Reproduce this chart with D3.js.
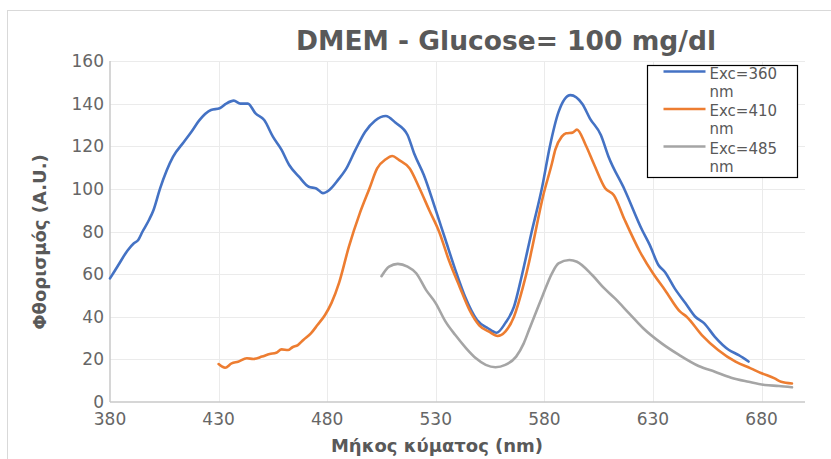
<!DOCTYPE html>
<html>
<head>
<meta charset="utf-8">
<script src="https://cdn.jsdelivr.net/npm/d3@7"></script>
<style>
  body { margin: 0; background: #fff; }
  svg { display: block; font-family: 'DejaVu Sans', sans-serif; }
  .grid line { stroke: #ebebeb; stroke-width: 1; }
  .tick-label { fill: #666; font-size: 17px; }
  .axis-title { fill: #595959; font-size: 18px; font-weight: bold; }
  .series { fill: none; stroke-width: 2.6; stroke-linejoin: round; stroke-linecap: round; }
</style>
</head>
<body>
<svg id="chart" width="831" height="459"></svg>
<script>
// Fluorescence emission spectra

const xTicks = [380, 430, 480, 530, 580, 630, 680];
const yTicks = [0, 20, 40, 60, 80, 100, 120, 140, 160];

const seriesNames = ['Exc=360 nm', 'Exc=410 nm', 'Exc=485 nm'];
const seriesColors = ['#4472c4', '#ed7d31', '#a5a5a5'];

const exc360Nm = [380, 384, 388, 391, 393, 395, 398, 400, 403, 409, 414, 417.5, 421, 426.5, 430.5, 433.5,
  437, 440, 443.5, 447, 451, 455, 459, 462.5, 467, 471.5, 475, 478, 481, 485, 488.5, 493, 497.5,
  502, 507, 511.5, 517, 520, 524.5, 530, 534.5, 539, 543.5, 549, 554, 558, 562, 566, 569.5, 574,
  579, 582.5, 586.5, 592, 597.5, 601, 606, 609.5, 617, 625, 628.5, 632.5, 635.5, 640, 645, 649.5,
  653.5, 658.5, 665, 669.5, 674];
const exc360Val = [58, 64.5, 71, 74.5, 76, 80, 85.5, 90, 100, 115, 122, 126.8, 132, 137, 137.8, 140,
  141.4, 140, 140, 135.4, 132.3, 124.5, 118.3, 111.2, 105.7, 101, 100.2, 98, 99.5, 104.2, 109, 118.3, 126.8,
  132, 134.2, 131, 125.3, 116.7, 106.5, 90, 76, 62, 49.4, 38.5, 34.6, 32.5, 37, 44.7, 58.8, 79.2,
  101, 119.8, 136, 144, 139.8, 133, 125.3, 115.2, 99.5, 80.7, 73.7, 64.3, 61, 53.3, 46.3, 40,
  37, 30.6, 24.4, 22, 19];

const exc410Nm = [430, 433, 436, 439, 443, 446, 450, 453.5, 456.5, 459, 462, 464, 466.5, 469, 472.5,
  475.5, 479, 482, 485.5, 490, 495, 499.5, 503, 507, 510, 513, 518, 522.5, 527, 531.5, 536, 541,
  545.5, 550, 554.5, 558.5, 562, 566, 570, 573, 574.5, 579.5, 583.5, 585, 588, 590, 593, 595,
  599, 603, 608, 612, 617, 624, 630, 635.5, 642.5, 645.5, 652.5, 660, 668, 675, 680, 686, 689, 694];
const exc410Val = [17.8, 16.1, 18.1, 18.9, 20.5, 20.2, 21.3, 22.5, 23.1, 24.7, 24.4, 25.7, 26.7, 29.1, 32.2,
  36.1, 40.8, 46.5, 56, 72.9, 88.5, 100.3, 109.6, 113.9, 115.4, 113.6, 109.6, 100.3, 90, 80, 66.6, 54,
  43.2, 36, 33, 31, 33, 40, 53.4, 65.8, 73, 97, 112, 118.3, 124.5, 126.1, 126.4, 127.8,
  120.6, 111.2, 100.3, 97, 85.4, 70.5, 60.4, 52.6, 42.4, 40, 31.4, 24.4, 18.9, 15.8, 13.5, 11.1, 9.5, 8.7];

const exc485Nm = [505, 508.5, 512.5, 517, 521, 525.5, 530, 534.5, 539, 544, 548.5, 553, 557.5, 562, 567,
  570.5, 573, 579, 583.5, 586.5, 591.5, 595, 602, 607.5, 612.5, 619, 625.5, 634, 642, 651, 658.5,
  666, 674, 681.5, 688, 694];
const exc485Val = [59, 63.5, 64.8, 63.5, 60.4, 52.6, 46.3, 37.7, 31.4, 25.2, 20.5, 17.4, 16.3, 17.4, 21.3,
  27.5, 34, 49.4, 60.4, 65, 66.6, 65.8, 59.6, 53.4, 48.6, 41.6, 34.6, 27.5, 22.1, 16.9, 14.2,
  11.4, 9.5, 8, 7.5, 6.9];

const seriesNm = [exc360Nm, exc410Nm, exc485Nm];
const seriesVal = [exc360Val, exc410Val, exc485Val];

const margin = { left: 110, right: 26, top: 61, bottom: 57 };
const W = 831, H = 459;

const svg = d3.select('#chart');

// thin frame around the whole chart
svg.append('rect')
  .attr('x', 7.5).attr('y', 10.5)
  .attr('width', 900).attr('height', 600)
  .attr('fill', 'none').attr('stroke', '#d9d9d9');

const x = d3.scaleLinear().domain([380, 700]).range([margin.left, W - margin.right]);
const y = d3.scaleLinear().domain([0, 160]).range([H - margin.bottom, margin.top]);

// grid
const grid = svg.append('g').attr('class', 'grid');
grid.selectAll('line.h').data(yTicks.filter(d => d > 0)).enter().append('line')
  .attr('x1', x(380)).attr('x2', x(700))
  .attr('y1', d => Math.round(y(d)) + 0.5).attr('y2', d => Math.round(y(d)) + 0.5);
grid.selectAll('line.v').data(xTicks.filter(d => d > 380)).enter().append('line')
  .attr('x1', d => Math.round(x(d)) + 0.5).attr('x2', d => Math.round(x(d)) + 0.5)
  .attr('y1', y(0)).attr('y2', y(160));

// axes lines
svg.append('line')
  .attr('x1', x(380)).attr('x2', x(380)).attr('y1', y(0)).attr('y2', y(160))
  .attr('stroke', '#c8c8c8').attr('stroke-width', 1.5);
svg.append('line')
  .attr('x1', x(380)).attr('x2', x(700)).attr('y1', y(0)).attr('y2', y(0))
  .attr('stroke', '#c8c8c8').attr('stroke-width', 1.5);

// tick labels
svg.selectAll('text.ytick').data(yTicks).enter().append('text')
  .attr('class', 'tick-label')
  .attr('x', x(380) - 6).attr('y', d => y(d))
  .attr('dy', '0.36em').attr('text-anchor', 'end')
  .text(d => d);
svg.selectAll('text.xtick').data(xTicks).enter().append('text')
  .attr('class', 'tick-label')
  .attr('x', d => x(d)).attr('y', y(0) + 23)
  .attr('text-anchor', 'middle')
  .text(d => d);

// series
const line = d3.line()
  .x(d => x(d[0]))
  .y(d => y(d[1]))
  .curve(d3.curveMonotoneX);

seriesNm.forEach((nm, i) => {
  const pts = nm.map((v, j) => [v, seriesVal[i][j]]);
  svg.append('path')
    .datum(pts)
    .attr('class', 'series')
    .attr('stroke', seriesColors[i])
    .attr('d', line);
});

// titles
svg.append('text')
  .attr('x', 506).attr('y', 50)
  .attr('text-anchor', 'middle')
  .attr('fill', '#595959')
  .style('font-size', '26.5px').style('font-weight', 'bold')
  .text('DMEM - Glucose= 100 mg/dl');

svg.append('text')
  .attr('class', 'axis-title')
  .attr('x', 437).attr('y', 452)
  .attr('text-anchor', 'middle')
  .text('Μήκος κύματος (nm)');

svg.append('text')
  .attr('class', 'axis-title')
  .attr('transform', 'translate(46,242) rotate(-90)')
  .attr('text-anchor', 'middle')
  .text('Φθορισμός (A.U.)');

// legend
const legend = svg.append('g').attr('transform', 'translate(647.5,65.5)');
legend.append('rect')
  .attr('width', 150).attr('height', 112)
  .attr('fill', '#fff').attr('stroke', '#000').attr('stroke-width', 1.2);

const entry = legend.selectAll('g.entry').data(seriesNames).enter().append('g')
  .attr('transform', (d, i) => `translate(0,${6 + i * 37.5})`);
entry.append('line')
  .attr('x1', 16).attr('x2', 58).attr('y1', 0).attr('y2', 0)
  .attr('stroke', (d, i) => seriesColors[i]).attr('stroke-width', 2.6);
entry.append('text')
  .attr('x', 62).attr('y', 7)
  .attr('fill', '#595959').style('font-size', '15px')
  .text(d => d.split(' ')[0]);
entry.append('text')
  .attr('x', 62).attr('y', 25)
  .attr('fill', '#595959').style('font-size', '15px')
  .text(d => d.split(' ')[1]);
</script>
</body>
</html>
